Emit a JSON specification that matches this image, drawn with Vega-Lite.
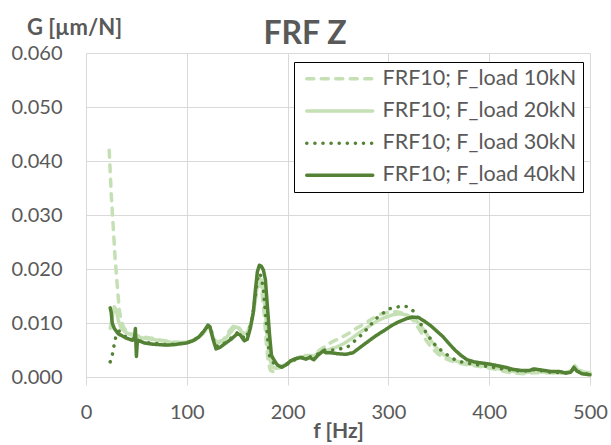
{
  "$schema": "https://vega.github.io/schema/vega-lite/v6.json",
  "width": 504,
  "height": 324,
  "autosize": "none",
  "padding": {"left": 86, "top": 53, "right": 21, "bottom": 68},
  "background": "#ffffff",
  "title": {"text": "FRF Z", "fontSize": 32, "font": "Lato", "fontWeight": "bold", "color": "#595959", "anchor": "middle", "frame": "group", "dx": -33, "dy": 70, "baseline": "alphabetic", "offset": 10},
  "datasets": {
    "frf": [
      {"s": "FRF10; F_load 10kN", "f": 23, "G": 0.0420}, {"s": "FRF10; F_load 10kN", "f": 24, "G": 0.0380}, {"s": "FRF10; F_load 10kN", "f": 25, "G": 0.0340}, {"s": "FRF10; F_load 10kN", "f": 27, "G": 0.0278}, {"s": "FRF10; F_load 10kN", "f": 29, "G": 0.0217}, {"s": "FRF10; F_load 10kN", "f": 31, "G": 0.0170}, {"s": "FRF10; F_load 10kN", "f": 33, "G": 0.0124}, {"s": "FRF10; F_load 10kN", "f": 35, "G": 0.0105}, {"s": "FRF10; F_load 10kN", "f": 37, "G": 0.0093}, {"s": "FRF10; F_load 10kN", "f": 40, "G": 0.0085}, {"s": "FRF10; F_load 10kN", "f": 45, "G": 0.0080}, {"s": "FRF10; F_load 10kN", "f": 50, "G": 0.0077}, {"s": "FRF10; F_load 10kN", "f": 57, "G": 0.0074}, {"s": "FRF10; F_load 10kN", "f": 65, "G": 0.0072}, {"s": "FRF10; F_load 10kN", "f": 75, "G": 0.0068}, {"s": "FRF10; F_load 10kN", "f": 85, "G": 0.0065}, {"s": "FRF10; F_load 10kN", "f": 95, "G": 0.0064}, {"s": "FRF10; F_load 10kN", "f": 102, "G": 0.0065}, {"s": "FRF10; F_load 10kN", "f": 110, "G": 0.0070}, {"s": "FRF10; F_load 10kN", "f": 116, "G": 0.0080}, {"s": "FRF10; F_load 10kN", "f": 120, "G": 0.0090}, {"s": "FRF10; F_load 10kN", "f": 123, "G": 0.0088}, {"s": "FRF10; F_load 10kN", "f": 126, "G": 0.0072}, {"s": "FRF10; F_load 10kN", "f": 130, "G": 0.0065}, {"s": "FRF10; F_load 10kN", "f": 136, "G": 0.0068}, {"s": "FRF10; F_load 10kN", "f": 142, "G": 0.0085}, {"s": "FRF10; F_load 10kN", "f": 147, "G": 0.0096}, {"s": "FRF10; F_load 10kN", "f": 151, "G": 0.0093}, {"s": "FRF10; F_load 10kN", "f": 155, "G": 0.0082}, {"s": "FRF10; F_load 10kN", "f": 159, "G": 0.0080}, {"s": "FRF10; F_load 10kN", "f": 163, "G": 0.0095}, {"s": "FRF10; F_load 10kN", "f": 166, "G": 0.0120}, {"s": "FRF10; F_load 10kN", "f": 169, "G": 0.0155}, {"s": "FRF10; F_load 10kN", "f": 171, "G": 0.0172}, {"s": "FRF10; F_load 10kN", "f": 173, "G": 0.0170}, {"s": "FRF10; F_load 10kN", "f": 175, "G": 0.0150}, {"s": "FRF10; F_load 10kN", "f": 177, "G": 0.0110}, {"s": "FRF10; F_load 10kN", "f": 179, "G": 0.0060}, {"s": "FRF10; F_load 10kN", "f": 181, "G": 0.0025}, {"s": "FRF10; F_load 10kN", "f": 183, "G": 0.0012}, {"s": "FRF10; F_load 10kN", "f": 186, "G": 0.0010}, {"s": "FRF10; F_load 10kN", "f": 190, "G": 0.0015}, {"s": "FRF10; F_load 10kN", "f": 195, "G": 0.0020}, {"s": "FRF10; F_load 10kN", "f": 200, "G": 0.0025}, {"s": "FRF10; F_load 10kN", "f": 206, "G": 0.0031}, {"s": "FRF10; F_load 10kN", "f": 212, "G": 0.0037}, {"s": "FRF10; F_load 10kN", "f": 218, "G": 0.0040}, {"s": "FRF10; F_load 10kN", "f": 225, "G": 0.0040}, {"s": "FRF10; F_load 10kN", "f": 232, "G": 0.0050}, {"s": "FRF10; F_load 10kN", "f": 238, "G": 0.0058}, {"s": "FRF10; F_load 10kN", "f": 244, "G": 0.0065}, {"s": "FRF10; F_load 10kN", "f": 252, "G": 0.0072}, {"s": "FRF10; F_load 10kN", "f": 260, "G": 0.0080}, {"s": "FRF10; F_load 10kN", "f": 268, "G": 0.0090}, {"s": "FRF10; F_load 10kN", "f": 276, "G": 0.0098}, {"s": "FRF10; F_load 10kN", "f": 284, "G": 0.0108}, {"s": "FRF10; F_load 10kN", "f": 292, "G": 0.0116}, {"s": "FRF10; F_load 10kN", "f": 300, "G": 0.0120}, {"s": "FRF10; F_load 10kN", "f": 308, "G": 0.0121}, {"s": "FRF10; F_load 10kN", "f": 315, "G": 0.0118}, {"s": "FRF10; F_load 10kN", "f": 320, "G": 0.0112}, {"s": "FRF10; F_load 10kN", "f": 325, "G": 0.0104}, {"s": "FRF10; F_load 10kN", "f": 330, "G": 0.0090}, {"s": "FRF10; F_load 10kN", "f": 336, "G": 0.0072}, {"s": "FRF10; F_load 10kN", "f": 342, "G": 0.0056}, {"s": "FRF10; F_load 10kN", "f": 349, "G": 0.0043}, {"s": "FRF10; F_load 10kN", "f": 355, "G": 0.0035}, {"s": "FRF10; F_load 10kN", "f": 362, "G": 0.0030}, {"s": "FRF10; F_load 10kN", "f": 369, "G": 0.0026}, {"s": "FRF10; F_load 10kN", "f": 380, "G": 0.0022}, {"s": "FRF10; F_load 10kN", "f": 392, "G": 0.0019}, {"s": "FRF10; F_load 10kN", "f": 405, "G": 0.0015}, {"s": "FRF10; F_load 10kN", "f": 415, "G": 0.0010}, {"s": "FRF10; F_load 10kN", "f": 425, "G": 0.0007}, {"s": "FRF10; F_load 10kN", "f": 435, "G": 0.0006}, {"s": "FRF10; F_load 10kN", "f": 445, "G": 0.0008}, {"s": "FRF10; F_load 10kN", "f": 455, "G": 0.0008}, {"s": "FRF10; F_load 10kN", "f": 465, "G": 0.0007}, {"s": "FRF10; F_load 10kN", "f": 475, "G": 0.0008}, {"s": "FRF10; F_load 10kN", "f": 482, "G": 0.0012}, {"s": "FRF10; F_load 10kN", "f": 485, "G": 0.0020}, {"s": "FRF10; F_load 10kN", "f": 488, "G": 0.0012}, {"s": "FRF10; F_load 10kN", "f": 495, "G": 0.0008}, {"s": "FRF10; F_load 10kN", "f": 500, "G": 0.0007},

      {"s": "FRF10; F_load 20kN", "f": 24, "G": 0.0090}, {"s": "FRF10; F_load 20kN", "f": 26, "G": 0.0110}, {"s": "FRF10; F_load 20kN", "f": 28, "G": 0.0130}, {"s": "FRF10; F_load 20kN", "f": 30, "G": 0.0125}, {"s": "FRF10; F_load 20kN", "f": 32, "G": 0.0105}, {"s": "FRF10; F_load 20kN", "f": 35, "G": 0.0090}, {"s": "FRF10; F_load 20kN", "f": 40, "G": 0.0082}, {"s": "FRF10; F_load 20kN", "f": 45, "G": 0.0078}, {"s": "FRF10; F_load 20kN", "f": 50, "G": 0.0075}, {"s": "FRF10; F_load 20kN", "f": 57, "G": 0.0072}, {"s": "FRF10; F_load 20kN", "f": 65, "G": 0.0070}, {"s": "FRF10; F_load 20kN", "f": 75, "G": 0.0067}, {"s": "FRF10; F_load 20kN", "f": 85, "G": 0.0064}, {"s": "FRF10; F_load 20kN", "f": 95, "G": 0.0064}, {"s": "FRF10; F_load 20kN", "f": 102, "G": 0.0065}, {"s": "FRF10; F_load 20kN", "f": 110, "G": 0.0071}, {"s": "FRF10; F_load 20kN", "f": 116, "G": 0.0082}, {"s": "FRF10; F_load 20kN", "f": 120, "G": 0.0092}, {"s": "FRF10; F_load 20kN", "f": 123, "G": 0.0090}, {"s": "FRF10; F_load 20kN", "f": 127, "G": 0.0070}, {"s": "FRF10; F_load 20kN", "f": 131, "G": 0.0063}, {"s": "FRF10; F_load 20kN", "f": 137, "G": 0.0068}, {"s": "FRF10; F_load 20kN", "f": 143, "G": 0.0082}, {"s": "FRF10; F_load 20kN", "f": 148, "G": 0.0093}, {"s": "FRF10; F_load 20kN", "f": 152, "G": 0.0090}, {"s": "FRF10; F_load 20kN", "f": 156, "G": 0.0080}, {"s": "FRF10; F_load 20kN", "f": 160, "G": 0.0082}, {"s": "FRF10; F_load 20kN", "f": 164, "G": 0.0100}, {"s": "FRF10; F_load 20kN", "f": 167, "G": 0.0130}, {"s": "FRF10; F_load 20kN", "f": 170, "G": 0.0170}, {"s": "FRF10; F_load 20kN", "f": 172, "G": 0.0183}, {"s": "FRF10; F_load 20kN", "f": 174, "G": 0.0180}, {"s": "FRF10; F_load 20kN", "f": 176, "G": 0.0160}, {"s": "FRF10; F_load 20kN", "f": 178, "G": 0.0120}, {"s": "FRF10; F_load 20kN", "f": 180, "G": 0.0070}, {"s": "FRF10; F_load 20kN", "f": 182, "G": 0.0035}, {"s": "FRF10; F_load 20kN", "f": 185, "G": 0.0018}, {"s": "FRF10; F_load 20kN", "f": 189, "G": 0.0016}, {"s": "FRF10; F_load 20kN", "f": 194, "G": 0.0020}, {"s": "FRF10; F_load 20kN", "f": 200, "G": 0.0025}, {"s": "FRF10; F_load 20kN", "f": 206, "G": 0.0032}, {"s": "FRF10; F_load 20kN", "f": 212, "G": 0.0037}, {"s": "FRF10; F_load 20kN", "f": 218, "G": 0.0038}, {"s": "FRF10; F_load 20kN", "f": 225, "G": 0.0038}, {"s": "FRF10; F_load 20kN", "f": 232, "G": 0.0046}, {"s": "FRF10; F_load 20kN", "f": 240, "G": 0.0050}, {"s": "FRF10; F_load 20kN", "f": 248, "G": 0.0055}, {"s": "FRF10; F_load 20kN", "f": 256, "G": 0.0062}, {"s": "FRF10; F_load 20kN", "f": 264, "G": 0.0072}, {"s": "FRF10; F_load 20kN", "f": 272, "G": 0.0083}, {"s": "FRF10; F_load 20kN", "f": 280, "G": 0.0093}, {"s": "FRF10; F_load 20kN", "f": 288, "G": 0.0103}, {"s": "FRF10; F_load 20kN", "f": 296, "G": 0.0110}, {"s": "FRF10; F_load 20kN", "f": 304, "G": 0.0115}, {"s": "FRF10; F_load 20kN", "f": 311, "G": 0.0117}, {"s": "FRF10; F_load 20kN", "f": 318, "G": 0.0115}, {"s": "FRF10; F_load 20kN", "f": 324, "G": 0.0110}, {"s": "FRF10; F_load 20kN", "f": 330, "G": 0.0100}, {"s": "FRF10; F_load 20kN", "f": 336, "G": 0.0085}, {"s": "FRF10; F_load 20kN", "f": 342, "G": 0.0068}, {"s": "FRF10; F_load 20kN", "f": 348, "G": 0.0053}, {"s": "FRF10; F_load 20kN", "f": 355, "G": 0.0041}, {"s": "FRF10; F_load 20kN", "f": 362, "G": 0.0033}, {"s": "FRF10; F_load 20kN", "f": 370, "G": 0.0028}, {"s": "FRF10; F_load 20kN", "f": 380, "G": 0.0024}, {"s": "FRF10; F_load 20kN", "f": 392, "G": 0.0021}, {"s": "FRF10; F_load 20kN", "f": 405, "G": 0.0017}, {"s": "FRF10; F_load 20kN", "f": 415, "G": 0.0013}, {"s": "FRF10; F_load 20kN", "f": 425, "G": 0.0010}, {"s": "FRF10; F_load 20kN", "f": 435, "G": 0.0008}, {"s": "FRF10; F_load 20kN", "f": 445, "G": 0.0010}, {"s": "FRF10; F_load 20kN", "f": 455, "G": 0.0009}, {"s": "FRF10; F_load 20kN", "f": 465, "G": 0.0008}, {"s": "FRF10; F_load 20kN", "f": 475, "G": 0.0008}, {"s": "FRF10; F_load 20kN", "f": 482, "G": 0.0012}, {"s": "FRF10; F_load 20kN", "f": 485, "G": 0.0021}, {"s": "FRF10; F_load 20kN", "f": 488, "G": 0.0013}, {"s": "FRF10; F_load 20kN", "f": 495, "G": 0.0009}, {"s": "FRF10; F_load 20kN", "f": 500, "G": 0.0008},

      {"s": "FRF10; F_load 30kN", "f": 24, "G": 0.0028}, {"s": "FRF10; F_load 30kN", "f": 26, "G": 0.0040}, {"s": "FRF10; F_load 30kN", "f": 28, "G": 0.0060}, {"s": "FRF10; F_load 30kN", "f": 30, "G": 0.0078}, {"s": "FRF10; F_load 30kN", "f": 33, "G": 0.0085}, {"s": "FRF10; F_load 30kN", "f": 36, "G": 0.0080}, {"s": "FRF10; F_load 30kN", "f": 40, "G": 0.0074}, {"s": "FRF10; F_load 30kN", "f": 45, "G": 0.0071}, {"s": "FRF10; F_load 30kN", "f": 50, "G": 0.0068}, {"s": "FRF10; F_load 30kN", "f": 55, "G": 0.0066}, {"s": "FRF10; F_load 30kN", "f": 60, "G": 0.0064}, {"s": "FRF10; F_load 30kN", "f": 70, "G": 0.0062}, {"s": "FRF10; F_load 30kN", "f": 80, "G": 0.0060}, {"s": "FRF10; F_load 30kN", "f": 90, "G": 0.0061}, {"s": "FRF10; F_load 30kN", "f": 100, "G": 0.0063}, {"s": "FRF10; F_load 30kN", "f": 110, "G": 0.0072}, {"s": "FRF10; F_load 30kN", "f": 117, "G": 0.0084}, {"s": "FRF10; F_load 30kN", "f": 121, "G": 0.0094}, {"s": "FRF10; F_load 30kN", "f": 124, "G": 0.0088}, {"s": "FRF10; F_load 30kN", "f": 128, "G": 0.0058}, {"s": "FRF10; F_load 30kN", "f": 132, "G": 0.0057}, {"s": "FRF10; F_load 30kN", "f": 138, "G": 0.0063}, {"s": "FRF10; F_load 30kN", "f": 145, "G": 0.0074}, {"s": "FRF10; F_load 30kN", "f": 150, "G": 0.0082}, {"s": "FRF10; F_load 30kN", "f": 154, "G": 0.0078}, {"s": "FRF10; F_load 30kN", "f": 158, "G": 0.0070}, {"s": "FRF10; F_load 30kN", "f": 162, "G": 0.0086}, {"s": "FRF10; F_load 30kN", "f": 165, "G": 0.0110}, {"s": "FRF10; F_load 30kN", "f": 168, "G": 0.0150}, {"s": "FRF10; F_load 30kN", "f": 170, "G": 0.0180}, {"s": "FRF10; F_load 30kN", "f": 172, "G": 0.0192}, {"s": "FRF10; F_load 30kN", "f": 174, "G": 0.0185}, {"s": "FRF10; F_load 30kN", "f": 176, "G": 0.0160}, {"s": "FRF10; F_load 30kN", "f": 178, "G": 0.0120}, {"s": "FRF10; F_load 30kN", "f": 180, "G": 0.0075}, {"s": "FRF10; F_load 30kN", "f": 182, "G": 0.0040}, {"s": "FRF10; F_load 30kN", "f": 185, "G": 0.0028}, {"s": "FRF10; F_load 30kN", "f": 190, "G": 0.0020}, {"s": "FRF10; F_load 30kN", "f": 195, "G": 0.0019}, {"s": "FRF10; F_load 30kN", "f": 200, "G": 0.0024}, {"s": "FRF10; F_load 30kN", "f": 206, "G": 0.0031}, {"s": "FRF10; F_load 30kN", "f": 212, "G": 0.0036}, {"s": "FRF10; F_load 30kN", "f": 220, "G": 0.0036}, {"s": "FRF10; F_load 30kN", "f": 228, "G": 0.0040}, {"s": "FRF10; F_load 30kN", "f": 236, "G": 0.0050}, {"s": "FRF10; F_load 30kN", "f": 245, "G": 0.0050}, {"s": "FRF10; F_load 30kN", "f": 252, "G": 0.0052}, {"s": "FRF10; F_load 30kN", "f": 259, "G": 0.0055}, {"s": "FRF10; F_load 30kN", "f": 266, "G": 0.0066}, {"s": "FRF10; F_load 30kN", "f": 275, "G": 0.0081}, {"s": "FRF10; F_load 30kN", "f": 282, "G": 0.0096}, {"s": "FRF10; F_load 30kN", "f": 289, "G": 0.0110}, {"s": "FRF10; F_load 30kN", "f": 296, "G": 0.0120}, {"s": "FRF10; F_load 30kN", "f": 302, "G": 0.0127}, {"s": "FRF10; F_load 30kN", "f": 310, "G": 0.0130}, {"s": "FRF10; F_load 30kN", "f": 317, "G": 0.0131}, {"s": "FRF10; F_load 30kN", "f": 322, "G": 0.0127}, {"s": "FRF10; F_load 30kN", "f": 327, "G": 0.0118}, {"s": "FRF10; F_load 30kN", "f": 333, "G": 0.0095}, {"s": "FRF10; F_load 30kN", "f": 339, "G": 0.0078}, {"s": "FRF10; F_load 30kN", "f": 345, "G": 0.0062}, {"s": "FRF10; F_load 30kN", "f": 352, "G": 0.0050}, {"s": "FRF10; F_load 30kN", "f": 359, "G": 0.0040}, {"s": "FRF10; F_load 30kN", "f": 366, "G": 0.0032}, {"s": "FRF10; F_load 30kN", "f": 372, "G": 0.0028}, {"s": "FRF10; F_load 30kN", "f": 380, "G": 0.0025}, {"s": "FRF10; F_load 30kN", "f": 390, "G": 0.0022}, {"s": "FRF10; F_load 30kN", "f": 400, "G": 0.0019}, {"s": "FRF10; F_load 30kN", "f": 410, "G": 0.0016}, {"s": "FRF10; F_load 30kN", "f": 420, "G": 0.0013}, {"s": "FRF10; F_load 30kN", "f": 430, "G": 0.0011}, {"s": "FRF10; F_load 30kN", "f": 440, "G": 0.0011}, {"s": "FRF10; F_load 30kN", "f": 445, "G": 0.0014}, {"s": "FRF10; F_load 30kN", "f": 450, "G": 0.0012}, {"s": "FRF10; F_load 30kN", "f": 460, "G": 0.0009}, {"s": "FRF10; F_load 30kN", "f": 470, "G": 0.0008}, {"s": "FRF10; F_load 30kN", "f": 480, "G": 0.0008}, {"s": "FRF10; F_load 30kN", "f": 484, "G": 0.0016}, {"s": "FRF10; F_load 30kN", "f": 488, "G": 0.0010}, {"s": "FRF10; F_load 30kN", "f": 495, "G": 0.0006}, {"s": "FRF10; F_load 30kN", "f": 500, "G": 0.0005},

      {"s": "FRF10; F_load 40kN", "f": 24, "G": 0.0128}, {"s": "FRF10; F_load 40kN", "f": 25, "G": 0.0120}, {"s": "FRF10; F_load 40kN", "f": 26, "G": 0.0100}, {"s": "FRF10; F_load 40kN", "f": 28, "G": 0.0090}, {"s": "FRF10; F_load 40kN", "f": 30, "G": 0.0085}, {"s": "FRF10; F_load 40kN", "f": 32, "G": 0.0080}, {"s": "FRF10; F_load 40kN", "f": 34, "G": 0.0078}, {"s": "FRF10; F_load 40kN", "f": 37, "G": 0.0075}, {"s": "FRF10; F_load 40kN", "f": 40, "G": 0.0072}, {"s": "FRF10; F_load 40kN", "f": 43, "G": 0.0070}, {"s": "FRF10; F_load 40kN", "f": 46, "G": 0.0068}, {"s": "FRF10; F_load 40kN", "f": 48, "G": 0.0070}, {"s": "FRF10; F_load 40kN", "f": 49, "G": 0.0090}, {"s": "FRF10; F_load 40kN", "f": 50, "G": 0.0038}, {"s": "FRF10; F_load 40kN", "f": 51, "G": 0.0068}, {"s": "FRF10; F_load 40kN", "f": 54, "G": 0.0066}, {"s": "FRF10; F_load 40kN", "f": 58, "G": 0.0063}, {"s": "FRF10; F_load 40kN", "f": 65, "G": 0.0061}, {"s": "FRF10; F_load 40kN", "f": 72, "G": 0.0060}, {"s": "FRF10; F_load 40kN", "f": 80, "G": 0.0059}, {"s": "FRF10; F_load 40kN", "f": 88, "G": 0.0060}, {"s": "FRF10; F_load 40kN", "f": 95, "G": 0.0062}, {"s": "FRF10; F_load 40kN", "f": 100, "G": 0.0063}, {"s": "FRF10; F_load 40kN", "f": 106, "G": 0.0067}, {"s": "FRF10; F_load 40kN", "f": 112, "G": 0.0074}, {"s": "FRF10; F_load 40kN", "f": 117, "G": 0.0085}, {"s": "FRF10; F_load 40kN", "f": 121, "G": 0.0096}, {"s": "FRF10; F_load 40kN", "f": 123, "G": 0.0093}, {"s": "FRF10; F_load 40kN", "f": 126, "G": 0.0070}, {"s": "FRF10; F_load 40kN", "f": 129, "G": 0.0052}, {"s": "FRF10; F_load 40kN", "f": 133, "G": 0.0055}, {"s": "FRF10; F_load 40kN", "f": 138, "G": 0.0062}, {"s": "FRF10; F_load 40kN", "f": 144, "G": 0.0070}, {"s": "FRF10; F_load 40kN", "f": 150, "G": 0.0080}, {"s": "FRF10; F_load 40kN", "f": 153, "G": 0.0078}, {"s": "FRF10; F_load 40kN", "f": 157, "G": 0.0067}, {"s": "FRF10; F_load 40kN", "f": 160, "G": 0.0070}, {"s": "FRF10; F_load 40kN", "f": 163, "G": 0.0090}, {"s": "FRF10; F_load 40kN", "f": 166, "G": 0.0120}, {"s": "FRF10; F_load 40kN", "f": 168, "G": 0.0160}, {"s": "FRF10; F_load 40kN", "f": 170, "G": 0.0195}, {"s": "FRF10; F_load 40kN", "f": 172, "G": 0.0207}, {"s": "FRF10; F_load 40kN", "f": 174, "G": 0.0205}, {"s": "FRF10; F_load 40kN", "f": 176, "G": 0.0198}, {"s": "FRF10; F_load 40kN", "f": 178, "G": 0.0180}, {"s": "FRF10; F_load 40kN", "f": 180, "G": 0.0130}, {"s": "FRF10; F_load 40kN", "f": 182, "G": 0.0080}, {"s": "FRF10; F_load 40kN", "f": 184, "G": 0.0040}, {"s": "FRF10; F_load 40kN", "f": 187, "G": 0.0030}, {"s": "FRF10; F_load 40kN", "f": 190, "G": 0.0022}, {"s": "FRF10; F_load 40kN", "f": 194, "G": 0.0018}, {"s": "FRF10; F_load 40kN", "f": 198, "G": 0.0022}, {"s": "FRF10; F_load 40kN", "f": 203, "G": 0.0030}, {"s": "FRF10; F_load 40kN", "f": 208, "G": 0.0034}, {"s": "FRF10; F_load 40kN", "f": 213, "G": 0.0036}, {"s": "FRF10; F_load 40kN", "f": 218, "G": 0.0033}, {"s": "FRF10; F_load 40kN", "f": 222, "G": 0.0036}, {"s": "FRF10; F_load 40kN", "f": 226, "G": 0.0032}, {"s": "FRF10; F_load 40kN", "f": 230, "G": 0.0040}, {"s": "FRF10; F_load 40kN", "f": 235, "G": 0.0048}, {"s": "FRF10; F_load 40kN", "f": 238, "G": 0.0045}, {"s": "FRF10; F_load 40kN", "f": 243, "G": 0.0045}, {"s": "FRF10; F_load 40kN", "f": 250, "G": 0.0043}, {"s": "FRF10; F_load 40kN", "f": 258, "G": 0.0042}, {"s": "FRF10; F_load 40kN", "f": 265, "G": 0.0045}, {"s": "FRF10; F_load 40kN", "f": 272, "G": 0.0055}, {"s": "FRF10; F_load 40kN", "f": 280, "G": 0.0066}, {"s": "FRF10; F_load 40kN", "f": 288, "G": 0.0077}, {"s": "FRF10; F_load 40kN", "f": 295, "G": 0.0085}, {"s": "FRF10; F_load 40kN", "f": 303, "G": 0.0095}, {"s": "FRF10; F_load 40kN", "f": 310, "G": 0.0102}, {"s": "FRF10; F_load 40kN", "f": 318, "G": 0.0108}, {"s": "FRF10; F_load 40kN", "f": 324, "G": 0.0111}, {"s": "FRF10; F_load 40kN", "f": 330, "G": 0.0110}, {"s": "FRF10; F_load 40kN", "f": 336, "G": 0.0103}, {"s": "FRF10; F_load 40kN", "f": 342, "G": 0.0095}, {"s": "FRF10; F_load 40kN", "f": 348, "G": 0.0085}, {"s": "FRF10; F_load 40kN", "f": 354, "G": 0.0075}, {"s": "FRF10; F_load 40kN", "f": 360, "G": 0.0062}, {"s": "FRF10; F_load 40kN", "f": 366, "G": 0.0050}, {"s": "FRF10; F_load 40kN", "f": 372, "G": 0.0040}, {"s": "FRF10; F_load 40kN", "f": 378, "G": 0.0032}, {"s": "FRF10; F_load 40kN", "f": 385, "G": 0.0028}, {"s": "FRF10; F_load 40kN", "f": 392, "G": 0.0026}, {"s": "FRF10; F_load 40kN", "f": 400, "G": 0.0024}, {"s": "FRF10; F_load 40kN", "f": 408, "G": 0.0021}, {"s": "FRF10; F_load 40kN", "f": 416, "G": 0.0018}, {"s": "FRF10; F_load 40kN", "f": 424, "G": 0.0014}, {"s": "FRF10; F_load 40kN", "f": 432, "G": 0.0012}, {"s": "FRF10; F_load 40kN", "f": 440, "G": 0.0012}, {"s": "FRF10; F_load 40kN", "f": 444, "G": 0.0015}, {"s": "FRF10; F_load 40kN", "f": 448, "G": 0.0014}, {"s": "FRF10; F_load 40kN", "f": 455, "G": 0.0012}, {"s": "FRF10; F_load 40kN", "f": 462, "G": 0.0010}, {"s": "FRF10; F_load 40kN", "f": 470, "G": 0.0010}, {"s": "FRF10; F_load 40kN", "f": 476, "G": 0.0007}, {"s": "FRF10; F_load 40kN", "f": 481, "G": 0.0009}, {"s": "FRF10; F_load 40kN", "f": 484, "G": 0.0018}, {"s": "FRF10; F_load 40kN", "f": 487, "G": 0.0011}, {"s": "FRF10; F_load 40kN", "f": 492, "G": 0.0006}, {"s": "FRF10; F_load 40kN", "f": 500, "G": 0.0004}
    ]
  },
  "layer": [
    {
      "mark": {"type": "rule", "color": "#d9d9d9", "strokeWidth": 1},
      "encoding": {"x": {"datum": 24, "type": "quantitative"}}
    },
    {
      "data": {"name": "frf"},
      "mark": {"type": "line", "strokeWidth": 3.5, "strokeCap": "round", "strokeJoin": "round"},
      "encoding": {
        "x": {
          "field": "f", "type": "quantitative",
          "scale": {"domain": [0, 500], "nice": false, "zero": false},
          "axis": {"values": [0, 100, 200, 300, 400, 500], "title": "f [Hz]", "format": "d"}
        },
        "y": {
          "field": "G", "type": "quantitative",
          "scale": {"domain": [0, 0.06], "nice": false},
          "axis": {"values": [0, 0.01, 0.02, 0.03, 0.04, 0.05, 0.06], "format": ".3f", "title": "G [µm/N]", "titleAngle": 0, "titleX": -12, "titleY": -26, "titleAlign": "center", "titleBaseline": "middle", "ticks": false, "domain": false, "labelPadding": 24}
        },
        "color": {
          "field": "s", "type": "nominal", "title": null,
          "scale": {"domain": ["FRF10; F_load 10kN", "FRF10; F_load 20kN", "FRF10; F_load 30kN", "FRF10; F_load 40kN"], "range": ["#c5e0b4", "#c5e0b4", "#548235", "#548235"]},
          "legend": {"encode": {"symbols": {"update": {"strokeCap": {"value": "round"}}}}}
        },
        "strokeDash": {
          "field": "s", "type": "nominal", "title": null,
          "scale": {"domain": ["FRF10; F_load 10kN", "FRF10; F_load 20kN", "FRF10; F_load 30kN", "FRF10; F_load 40kN"], "range": [[7, 7.5], [1, 0], [0.1, 8], [1, 0]]},
          "legend": {"encode": {"symbols": {"update": {"strokeCap": {"value": "round"}}}}}
        }
      }
    }
  ],
  "config": {
    "view": {"stroke": null},
    "font": "Lato",
    "axis": {
      "labelFont": "Lato", "labelFontSize": 20, "labelColor": "#595959",
      "titleFont": "Lato", "titleFontSize": 22, "titleFontWeight": "bold", "titleColor": "#595959",
      "gridColor": "#d9d9d9", "gridWidth": 1, "grid": true
    },
    "axisX": {"domainColor": "#d9d9d9", "tickColor": "#d9d9d9", "tickSize": 8, "labelPadding": 17, "titlePadding": -2, "titleFontSize": 21, "labelFlush": false},
    "legend": {
      "orient": "none", "legendX": 208, "legendY": 9,
      "symbolType": "M-6,0H6", "symbolSize": 121, "symbolStrokeWidth": 3.5,
      "symbolOffset": 29, "labelOffset": 32,
      "labelFont": "Lato", "labelFontSize": 21.5, "labelColor": "#595959", "labelLimit": 400,
      "strokeColor": "#000000", "fillColor": "#ffffff", "padding": 6, "rowPadding": 9.2,
      "symbolFillColor": "transparent"
    }
  }
}
